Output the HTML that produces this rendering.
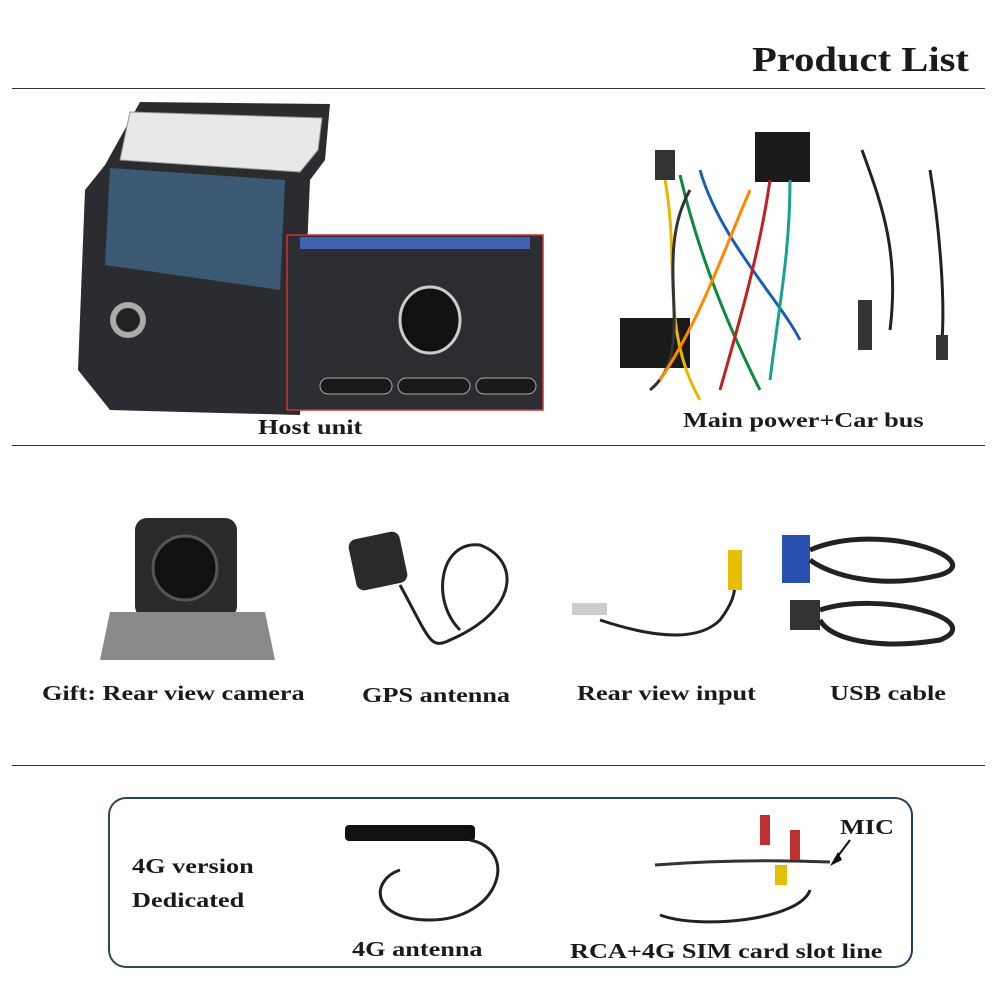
<!DOCTYPE html>
<html><head><meta charset="utf-8"><style>
html,body{margin:0;padding:0;background:#fff;}
body{width:1000px;height:1000px;position:relative;overflow:hidden;font-family:"Liberation Serif",serif;}
.t{position:absolute;font-weight:bold;color:#1a1a1a;font-size:21px;white-space:nowrap;transform:scaleX(1.25);transform-origin:0 0;}
.hr{position:absolute;left:12px;width:973px;height:1px;background:#333;}
</style></head><body>
<div class="t" style="left:752px;top:40px;font-size:35px;transform:scaleX(1.16);">Product List</div>
<div class="hr" style="top:88px"></div>
<div class="hr" style="top:445px"></div>
<div class="hr" style="top:765px"></div>
<div style="position:absolute;left:108px;top:797px;width:801px;height:167px;border:2px solid #2d4d3a;border-right-color:#1f3a6b;border-top-color:#27455a;border-radius:18px;"></div>

<svg width="1000" height="1000" style="position:absolute;left:0;top:0">
<path d="M140 102 L330 104 L325 160 L310 180 L300 415 L110 410 L78 370 L85 190 L105 165 Z" fill="#2a2c30"/>
<path d="M130 112 L322 118 L318 150 L300 172 L120 160 Z" fill="#e8e8e8" stroke="#999"/>
<path d="M110 168 L285 180 L280 290 L105 265 Z" fill="#3c5a74"/>
<circle cx="128" cy="320" r="18" fill="#aaa"/><circle cx="128" cy="320" r="12" fill="#222"/>
<rect x="287" y="235" width="256" height="175" fill="#2b2d30" stroke="#d03030" stroke-width="1.5"/>
<rect x="300" y="237" width="230" height="12" fill="#4060b0"/>
<ellipse cx="430" cy="320" rx="30" ry="33" fill="#111" stroke="#ccc" stroke-width="3"/>
<rect x="320" y="378" width="72" height="16" rx="8" fill="#1a1a1a" stroke="#aaa"/>
<rect x="398" y="378" width="72" height="16" rx="8" fill="#1a1a1a" stroke="#aaa"/>
<rect x="476" y="378" width="60" height="16" rx="8" fill="#1a1a1a" stroke="#aaa"/>
<rect x="620" y="318" width="70" height="50" fill="#1a1a1a"/>
<rect x="755" y="132" width="55" height="50" fill="#1a1a1a"/>
<rect x="655" y="150" width="20" height="30" fill="#333"/>
<g fill="none" stroke-width="3">
<path d="M665 180 C680 260 660 330 700 400" stroke="#e6b800"/>
<path d="M680 175 C700 260 730 330 760 390" stroke="#0a8a3a"/>
<path d="M700 170 C720 240 780 300 800 340" stroke="#1a5fb0"/>
<path d="M770 180 C760 250 740 320 720 390" stroke="#c02020"/>
<path d="M790 180 C790 250 780 300 770 380" stroke="#1aa090"/>
<path d="M690 190 C650 260 700 350 650 390" stroke="#333"/>
<path d="M750 190 C720 260 700 320 660 380" stroke="#ff8800"/>
</g>
<path d="M862 150 C880 200 900 250 890 330" fill="none" stroke="#222" stroke-width="3"/>
<rect x="858" y="300" width="14" height="50" fill="#333"/>
<path d="M930 170 C940 230 945 300 942 340" fill="none" stroke="#222" stroke-width="3"/>
<rect x="936" y="335" width="12" height="25" fill="#333"/>
<rect x="135" y="518" width="102" height="100" rx="12" fill="#2a2a2a"/>
<circle cx="185" cy="568" r="32" fill="#111" stroke="#555" stroke-width="3"/>
<path d="M110 612 L265 612 L275 660 L100 660 Z" fill="#8a8a8a"/>
<rect x="352" y="535" width="52" height="52" rx="8" fill="#2a2a2a" transform="rotate(-12 378 561)"/>
<path d="M400 585 C430 640 430 650 450 640 C520 610 520 560 480 545 C440 540 430 600 460 630" fill="none" stroke="#222" stroke-width="3"/>
<path d="M600 620 C660 640 700 640 720 620 C735 600 735 590 735 580" fill="none" stroke="#222" stroke-width="3"/>
<rect x="728" y="550" width="14" height="40" fill="#e6c000"/>
<rect x="572" y="603" width="35" height="12" fill="#ccc"/>
<rect x="782" y="535" width="28" height="48" fill="#2a50b0"/>
<rect x="790" y="600" width="30" height="30" fill="#333"/>
<path d="M810 550 C880 520 990 560 940 575 C880 590 830 575 810 560" fill="none" stroke="#222" stroke-width="5"/>
<path d="M820 610 C880 590 990 620 940 640 C880 650 830 640 820 620" fill="none" stroke="#222" stroke-width="5"/>
<rect x="345" y="825" width="130" height="16" rx="4" fill="#111"/>
<path d="M470 840 C520 850 500 920 430 920 C370 920 370 880 400 870" fill="none" stroke="#222" stroke-width="3"/>
<path d="M655 865 C720 860 780 860 830 862" fill="none" stroke="#333" stroke-width="3"/>
<path d="M660 915 C700 930 800 920 810 890" fill="none" stroke="#222" stroke-width="3"/>
<rect x="760" y="815" width="10" height="30" fill="#c03030"/>
<rect x="790" y="830" width="10" height="30" fill="#c03030"/>
<rect x="775" y="865" width="12" height="20" fill="#e0c000"/>
<path d="M850 840 L835 860" stroke="#111" stroke-width="2"/>
<path d="M830 866 L838 852 L842 860 Z" fill="#111"/>
</svg>

<div class="t" style="left:258px;top:415px;">Host unit</div>
<div class="t" style="left:683px;top:408px;">Main power+Car bus</div>
<div class="t" style="left:42px;top:681px;">Gift: Rear view camera</div>
<div class="t" style="left:362px;top:683px;">GPS antenna</div>
<div class="t" style="left:577px;top:681px;">Rear view input</div>
<div class="t" style="left:830px;top:681px;">USB cable</div>
<div class="t" style="left:132px;top:854px;">4G version</div>
<div class="t" style="left:132px;top:888px;">Dedicated</div>
<div class="t" style="left:352px;top:937px;">4G antenna</div>
<div class="t" style="left:570px;top:939px;">RCA+4G SIM card slot line</div>
<div class="t" style="left:840px;top:815px;">MIC</div>
</body></html>
